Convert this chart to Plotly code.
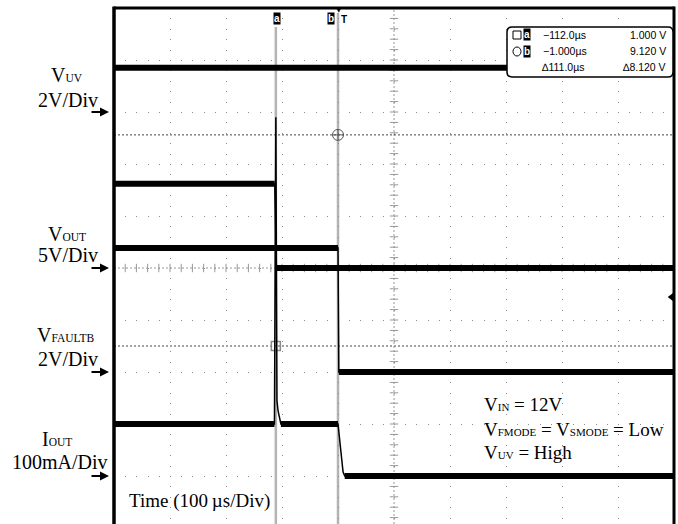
import plotly.graph_objects as go

# ---------------- data ----------------
# time in microseconds relative to trigger
x_range_us = [-401.0, 599.0]          # 10 divisions, 100 us/div
y_range_div = [-4.923, 5.0]           # vertical divisions visible on screen

channels = ["V_UV", "V_OUT", "V_FAULTB", "I_OUT"]
ch_scale = [2.0, 5.0, 2.0, 100.0]     # units per division
ch_ground_div = [3.0, 0.0, -2.0, -4.0]  # ground reference marker (div)

vuv_t = [-401, 599]
vuv_v = [1.7, 1.7]                    # V

vout_t = [-401, -114, -111, 599]
vout_v = [8.1, 8.1, 0.0, 0.0]         # V

vfault_t = [-401, -1, 0.5, 599]
vfault_v = [4.77, 4.77, 0.0, 0.0]     # V

iout_t = [-401, -114.5, -112, -111, -110, -108, -106, -103, -1, 8, 11, 599]
iout_v = [100, 100, 690, 300, 145, 125, 115, 100, 100, 8, 0, 0]  # mA

cursor_t = [-112.0, -1.0]             # cursor a, cursor b (us)
cursor_v = [1.000, 9.120]             # V on V_FAULTB channel
readout_rows = [["−112.0µs", "1.000 V"], ["−1.000µs", "9.120 V"], ["∆111.0µs", "∆8.120 V"]]
trig_level_v = 2.88                   # V on V_FAULTB

# ---------------- geometry helpers (pixels -> paper) ----------------
L, R, T, B = 114, 4, 8, 0
W, H = 678, 524
PW, PH = W - L - R, H - T - B

def X(px):
    return (px - L) / PW

def Y(py):
    return (H - B - py) / PH

fig = go.Figure()

series = [(vuv_t, vuv_v), (vout_t, vout_v), (vfault_t, vfault_v), (iout_t, iout_v)]
axes_names = ["y2", "y3", "y4", "y5"]

for (t, v), ya in zip(series, axes_names):
    # thin full waveform (edges)
    fig.add_trace(go.Scatter(x=t, y=v, yaxis=ya, mode="lines",
                             line=dict(color="black", width=1.5), hoverinfo="skip"))
    # thick flat levels
    xs, ys = [], []
    for i in range(len(t) - 1):
        if v[i] == v[i + 1]:
            xs += [t[i], t[i + 1], None]
            ys += [v[i], v[i + 1], None]
    fig.add_trace(go.Scatter(x=xs, y=ys, yaxis=ya, mode="lines",
                             line=dict(color="black", width=6), hoverinfo="skip"))

# cursor markers on V_FAULTB channel
fig.add_trace(go.Scatter(x=[cursor_t[0]], y=[cursor_v[0]], yaxis="y4", mode="markers",
                         marker=dict(symbol="square-open", size=9, color="#8a8a8a",
                                     line=dict(width=1.5)), hoverinfo="skip"))
fig.add_trace(go.Scatter(x=[cursor_t[1]], y=[cursor_v[1]], yaxis="y4", mode="markers",
                         marker=dict(symbol="circle-cross-open", size=11, color="#555",
                                     line=dict(width=1)), hoverinfo="skip"))
# trigger level marker at right edge
fig.add_trace(go.Scatter(x=[595], y=[trig_level_v], yaxis="y4", mode="markers",
                         marker=dict(symbol="triangle-left", size=8, color="black"),
                         hoverinfo="skip", cliponaxis=False))

# center graticule tick marks
minor_x = [x_range_us[0] + 20 * k for k in range(51)]
fig.add_trace(go.Scatter(x=minor_x, y=[0] * len(minor_x), mode="markers",
                         marker=dict(symbol="line-ns", size=6, line=dict(color="#999", width=1)),
                         hoverinfo="skip"))
minor_y = [5 - 0.2 * k for k in range(50)]
fig.add_trace(go.Scatter(x=[x_range_us[0] + 500] * len(minor_y), y=minor_y, mode="markers",
                         marker=dict(symbol="line-ew", size=6, line=dict(color="#999", width=1)),
                         hoverinfo="skip"))

shapes = []
# center lines
shapes.append(dict(type="line", xref="x", yref="y", x0=x_range_us[0], x1=x_range_us[1], y0=0, y1=0,
                   line=dict(color="#999", width=1, dash="2px,2px"), layer="below"))
shapes.append(dict(type="line", xref="x", yref="paper", x0=x_range_us[0] + 500, x1=x_range_us[0] + 500,
                   y0=0, y1=1, line=dict(color="#999", width=1, dash="2px,2px"), layer="below"))
# vertical cursors (grey)
shapes.append(dict(type="line", xref="x", yref="paper", x0=cursor_t[0], x1=cursor_t[0], y0=0, y1=Y(27),
                   line=dict(color="#b4b4b4", width=2.5), layer="below"))
shapes.append(dict(type="line", xref="x", yref="paper", x0=cursor_t[1], x1=cursor_t[1], y0=0, y1=Y(13),
                   line=dict(color="#b4b4b4", width=2.5), layer="below"))
# horizontal cursors (dashed) on V_FAULTB scale
for cv in cursor_v:
    shapes.append(dict(type="line", xref="paper", yref="y4", x0=0, x1=1, y0=cv, y1=cv,
                       line=dict(color="#444", width=1, dash="2px,2px"), layer="below"))
# frame
shapes.append(dict(type="line", xref="paper", yref="paper", x0=0, x1=0, y0=-0.01, y1=1.003,
                   line=dict(color="black", width=3.5), layer="above"))
shapes.append(dict(type="line", xref="paper", yref="paper", x0=0, x1=1, y0=1, y1=1,
                   line=dict(color="black", width=3), layer="above"))
shapes.append(dict(type="line", xref="paper", yref="paper", x0=1, x1=1, y0=-0.01, y1=1.003,
                   line=dict(color="black", width=3), layer="above"))

# readout box with rounded corners
def rrect(x0, y0, x1, y1, r):
    return (f"M {X(x0 + r)},{Y(y0)} L {X(x1 - r)},{Y(y0)} Q {X(x1)},{Y(y0)} {X(x1)},{Y(y0 + r)} "
            f"L {X(x1)},{Y(y1 - r)} Q {X(x1)},{Y(y1)} {X(x1 - r)},{Y(y1)} "
            f"L {X(x0 + r)},{Y(y1)} Q {X(x0)},{Y(y1)} {X(x0)},{Y(y1 - r)} "
            f"L {X(x0)},{Y(y0 + r)} Q {X(x0)},{Y(y0)} {X(x0 + r)},{Y(y0)} Z")

shapes.append(dict(type="path", xref="paper", yref="paper", path=rrect(507, 27, 673, 77, 5),
                   fillcolor="white", line=dict(color="black", width=1.5), layer="above"))
shapes.append(dict(type="rect", xref="paper", yref="paper", x0=X(513), x1=X(521), y0=Y(39), y1=Y(31),
                   line=dict(color="black", width=1), fillcolor="white", layer="above"))
shapes.append(dict(type="circle", xref="paper", yref="paper", x0=X(513), x1=X(521), y0=Y(56), y1=Y(47),
                   line=dict(color="black", width=1), fillcolor="white", layer="above"))

ann = []
SERIF = "Liberation Serif"
SANS = "Liberation Sans"

def txt(x, y, s, size=19, anchor="center", font=SERIF, color="black"):
    ann.append(dict(xref="paper", yref="paper", x=X(x), y=Y(y), text=s, showarrow=False,
                    xanchor=anchor, yanchor="middle", font=dict(family=font, size=size, color=color)))

def sub(s, size=11):
    return f"<span style='font-size:{size}px'>{s}</span>"

# left labels
txt(67, 75, "V" + sub("UV", 11.5), size=20)
txt(67.5, 100, "2V/Div", size=20)
txt(67, 234, "V" + sub("OUT", 11.5), size=20)
txt(68, 255, "5V/Div", size=20)
txt(66, 335, "V" + sub("FAULTB", 11.5), size=20)
txt(68, 359, "2V/Div", size=20)
txt(57, 439, "I" + sub("OUT", 11.5), size=20)
txt(59.5, 462, "100mA/Div", size=20)
# ground arrows
for gd in ch_ground_div:
    py = 268 - gd * 52
    ann.append(dict(xref="paper", yref="paper", x=X(109), y=Y(py), ax=-19, ay=0, text="",
                    showarrow=True, arrowhead=2, arrowsize=1, arrowwidth=1.8, arrowcolor="black"))

# conditions
txt(482, 404, "V" + sub("IN") + " = 12V", anchor="left")
txt(482, 429, "V" + sub("FMODE") + " = V" + sub("SMODE") + " = Low", anchor="left")
txt(482, 452, "V" + sub("UV") + " = High", anchor="left")
txt(127, 501, "Time (100\u2009µs/Div)", anchor="left")

# readout
rows_y = [35, 51, 67]
for (left, right), ry in zip(readout_rows, rows_y):
    ann.append(dict(xref="paper", yref="paper", x=X(541 if not left.startswith("∆") else 540), y=Y(ry),
                    text=left, showarrow=False, xanchor="left", yanchor="middle",
                    font=dict(family=SANS, size=10.5, color="black")))
    ann.append(dict(xref="paper", yref="paper", x=X(668), y=Y(ry), text=right, showarrow=False,
                    xanchor="right", yanchor="middle", font=dict(family=SANS, size=10.5, color="black")))

def badge(x, y, s):
    ann.append(dict(xref="paper", yref="paper", x=X(x), y=Y(y), text=f"<b>{s}</b>", showarrow=False,
                    xanchor="center", yanchor="middle", bgcolor="black", borderpad=0,
                    font=dict(family=SANS, size=10, color="white")))

badge(527, 35, "a")
badge(527, 51, "b")
badge(277, 18, "a")
badge(331, 18, "b")
ann.append(dict(xref="paper", yref="paper", x=X(344), y=Y(19), text="<b>T</b>", showarrow=False,
                xanchor="center", yanchor="middle", font=dict(family=SANS, size=10, color="black")))
ann.append(dict(xref="paper", yref="paper", x=X(338.6), y=Y(10), text="▼", showarrow=False,
                xanchor="center", yanchor="middle", font=dict(family="DejaVu Sans", size=7, color="black")))

layout_axes = {}
for i, (sc, gd) in enumerate(zip(ch_scale, ch_ground_div)):
    layout_axes[f"yaxis{i + 2}"] = dict(overlaying="y", visible=False, showgrid=False,
                                        range=[(y_range_div[0] - gd) * sc, (y_range_div[1] - gd) * sc])

fig.update_layout(
    width=W, height=H, margin=dict(l=L, r=R, t=T, b=B),
    paper_bgcolor="white", plot_bgcolor="white", showlegend=False,
    xaxis=dict(range=x_range_us, showgrid=True, gridcolor="#8c8c8c", gridwidth=1, griddash="1px,9.4px",
               tick0=x_range_us[0], dtick=100, showticklabels=False, zeroline=False, showline=False,
               ticks=""),
    yaxis=dict(range=y_range_div, showgrid=True, gridcolor="#8c8c8c", gridwidth=1, griddash="1px,10.2px",
               tick0=0, dtick=1, showticklabels=False, zeroline=False, showline=False, ticks=""),
    shapes=shapes, annotations=ann,
    **layout_axes,
)

fig.write_html("out.html", config={"displayModeBar": False},
               post_script="document.body.style.margin='0';document.body.style.padding='0';")
